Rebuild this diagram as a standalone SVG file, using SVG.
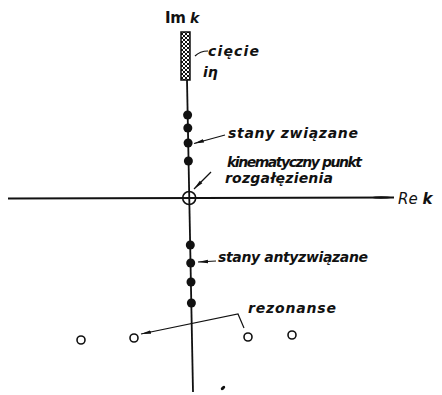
<svg xmlns="http://www.w3.org/2000/svg" width="442" height="395" viewBox="0 0 442 395">
<style>
.lbl{font-family:"DejaVu Sans",Verdana,sans-serif;font-style:oblique;font-weight:bold;font-size:14px;fill:#111}
.ax{stroke:#111;stroke-width:1.8;fill:none}
.ld{stroke:#111;stroke-width:1.2;fill:none}
.dot{fill:#111}
.ring{fill:none;stroke:#111;stroke-width:1.6}
</style>
<defs>
<pattern id="hatch" width="4" height="4" patternUnits="userSpaceOnUse">
<rect width="4" height="4" fill="#fff"/>
<path d="M0,4 L4,0 M0,0 L4,4" stroke="#111" stroke-width="1"/>
</pattern>
<marker id="arr" viewBox="0 0 10 6" refX="10" refY="3" markerWidth="10" markerHeight="6" markerUnits="userSpaceOnUse" orient="auto">
<path d="M0,1.2 L10,3 L0,4.8 Z" fill="#111"/>
</marker>
<marker id="arrR" viewBox="0 0 24 6" refX="24" refY="3" markerWidth="24" markerHeight="6" markerUnits="userSpaceOnUse" orient="auto">
<path d="M0,3 Q10,0.5 24,3 Q10,5.5 0,3 Z" fill="#111"/>
</marker>
</defs>
<g id="axes">
<line class="ax" x1="187" y1="80" x2="193" y2="392"/>
<line class="ax" x1="8" y1="198.5" x2="394" y2="197.5" marker-end="url(#arrR)"/>
</g>
<g id="cut">
<rect x="181" y="32" width="9" height="48" fill="url(#hatch)" stroke="#111" stroke-width="1.5"/>
</g>
<g id="labels-axes">
<text x="165" y="23" textLength="21" lengthAdjust="spacing" style="font-family:'DejaVu Sans',Verdana,sans-serif;font-weight:bold;font-size:15px;fill:#111">Im</text>
<text class="lbl" x="190" y="23" font-size="15">k</text>
<text x="398" y="204" style="font-family:'DejaVu Sans',Verdana,sans-serif;font-style:oblique;font-size:15px;fill:#111">Re <tspan font-weight="bold">k</tspan></text>
<text class="lbl" x="203" y="77" font-size="15">iη</text>
</g>
<g id="bound-states">
<circle class="dot" cx="187.6" cy="115" r="4.5"/>
<circle class="dot" cx="187.8" cy="128" r="4.5"/>
<circle class="dot" cx="188.1" cy="143" r="4.5"/>
<circle class="dot" cx="188.4" cy="161" r="4.5"/>
</g>
<g id="origin">
<circle cx="189.2" cy="198" r="6.5" fill="none" stroke="#111" stroke-width="1.6"/>
</g>
<g id="antibound-states">
<circle class="dot" cx="190.3" cy="245" r="4.5"/>
<circle class="dot" cx="190.7" cy="263" r="4.5"/>
<circle class="dot" cx="191" cy="282" r="4.5"/>
<circle class="dot" cx="191.4" cy="303" r="4.5"/>
</g>
<g id="resonances">
<circle class="ring" cx="81" cy="340" r="4"/>
<circle class="ring" cx="134" cy="338" r="4"/>
<circle class="ring" cx="248" cy="337" r="4"/>
<circle class="ring" cx="292" cy="335" r="4"/>
</g>
<g id="mark">
<ellipse cx="223" cy="388" rx="2.6" ry="1.5" transform="rotate(-40 223 388)" fill="#111"/>
</g>
<g id="connectors">
<path class="ld" d="M195,56 Q200,51 208,51"/>
<line class="ld" x1="225" y1="135" x2="194" y2="143.5" marker-end="url(#arr)"/>
<line class="ld" x1="211" y1="172" x2="194" y2="189" marker-end="url(#arr)"/>
<line class="ld" x1="216" y1="261" x2="198" y2="262" marker-end="url(#arr)"/>
<polyline class="ld" points="244,328 238,314 141,334" marker-end="url(#arr)"/>
</g>
<g id="texts">
<text class="lbl" x="208" y="56" textLength="51" lengthAdjust="spacing">cięcie</text>
<text class="lbl" x="228" y="138" textLength="130" lengthAdjust="spacing">stany związane</text>
<text class="lbl" x="227" y="167" font-weight="normal" textLength="135" lengthAdjust="spacing">kinematyczny punkt</text>
<text class="lbl" x="225" y="183" textLength="108" lengthAdjust="spacing">rozgałęzienia</text>
<text class="lbl" x="218" y="262" textLength="150" lengthAdjust="spacing">stany antyzwiązane</text>
<text class="lbl" x="248" y="313" textLength="88" lengthAdjust="spacing">rezonanse</text>
</g>
</svg>
